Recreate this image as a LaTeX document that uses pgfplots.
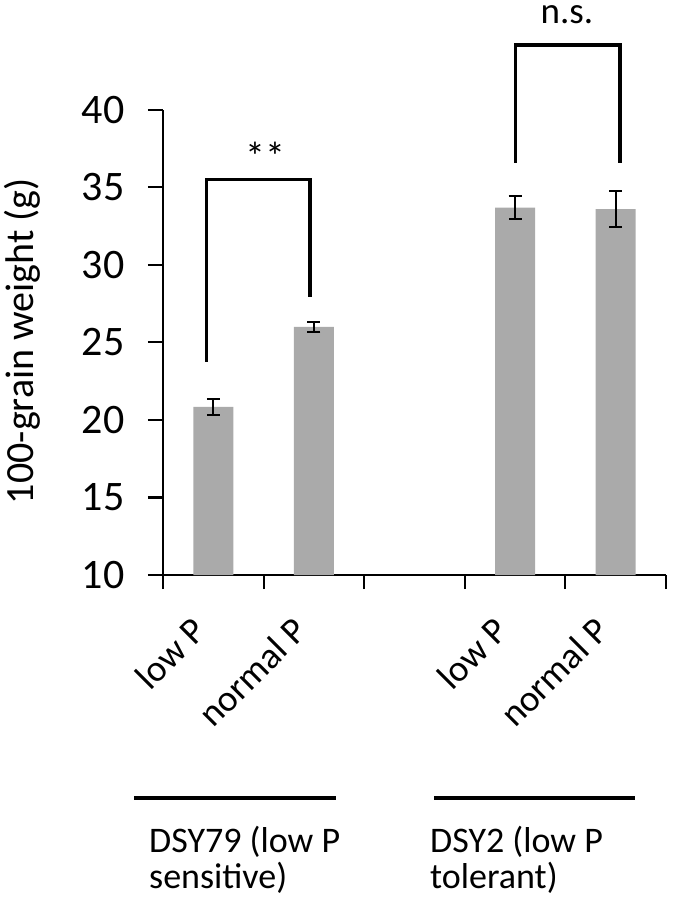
\documentclass[border=0pt]{standalone}
\usepackage{fontspec}
\setmainfont{Carlito}
\usepackage{pgfplots}
\pgfplotsset{compat=1.18}
\definecolor{bargray}{HTML}{AAAAAA}
\begin{document}
\begin{tikzpicture}
\useasboundingbox (-163pt,-334pt) rectangle (512pt,575pt);
\begin{axis}[
  at={(0pt,0pt)}, anchor=south west,
  scale only axis, width=503pt, height=465pt,
  xmin=-0.5, xmax=4.5, ymin=10, ymax=40,
  axis x line*=bottom, axis y line*=left,
  axis line style={line width=2pt, black},
  ytick={10,15,...,40},
  xtick={0,1,3,4},
  xticklabels={low P, normal P, low P, normal P},
  minor xtick={-0.5,0.5,1.5,2.5,3.5,4.5},
  tick align=outside,
  major tick length=15pt, minor tick length=14pt,
  tick style={line width=2pt, black},
  major x tick style={draw=none},
  clip mode=individual,
  /pgf/number format/assume math mode=true,
  yticklabel style={font=\fontsize{42}{46}\selectfont, xshift=-20pt},
  xticklabel style={font=\fontsize{37}{40}\selectfont, xshift=-23pt, rotate=45, anchor=north east, inner sep=0pt},
  xticklabel shift=25pt,
  ylabel={100-grain weight (g)},
  ylabel style={font=\fontsize{40}{42}\selectfont, at={(axis description cs:-0.2803,0.503)}, anchor=center},
]
\addplot[ybar, bar width=40pt, fill=bargray, draw=none]
  coordinates {(0,20.85) (1,26.0) (3,33.7) (4,33.6)};
\addplot[draw=none, mark=none,
  error bars/.cd, y dir=both, y explicit,
  error mark=|,
  error bar style={draw=black, line width=2pt},
  error mark options={draw=black, line width=2pt, mark size=6.5pt}]
  coordinates {(0,20.85) +- (0,0.5) (1,26.0) +- (0,0.35) (3,33.7) +- (0,0.75) (4,33.6) +- (0,1.15)};
\draw[line width=3.5pt] (axis cs:-0.066,23.76) -- (axis cs:-0.066,35.5) -- (axis cs:0.961,35.5) -- (axis cs:0.961,27.96);
\draw[line width=3.5pt] (axis cs:3.006,36.6) -- (axis cs:3.006,44.2) -- (axis cs:4.043,44.2) -- (axis cs:4.043,36.6);
\end{axis}
\node[font=\fontsize{40}{44}\selectfont, anchor=base, inner sep=0pt] at (102pt,404pt) {**};
\node[font=\fontsize{37}{40}\selectfont, anchor=base, inner sep=0pt, text height=18pt, text depth=0pt] at (404pt,551pt) {n.s.};
\draw[line width=4pt] (-29pt,-223pt) -- (173pt,-223pt);
\draw[line width=4pt] (271pt,-223pt) -- (472pt,-223pt);
\node[font=\fontsize{36}{36}\selectfont, anchor=base west, inner sep=0pt] at (-14pt,-277pt) {DSY79 (low P};
\node[font=\fontsize{36}{36}\selectfont, anchor=base west, inner sep=0pt] at (-14pt,-313pt) {sensitive)};
\node[font=\fontsize{36}{36}\selectfont, anchor=base west, inner sep=0pt] at (267pt,-277pt) {DSY2 (low P};
\node[font=\fontsize{36}{36}\selectfont, anchor=base west, inner sep=0pt] at (267pt,-313pt) {tolerant)};
\end{tikzpicture}
\end{document}
